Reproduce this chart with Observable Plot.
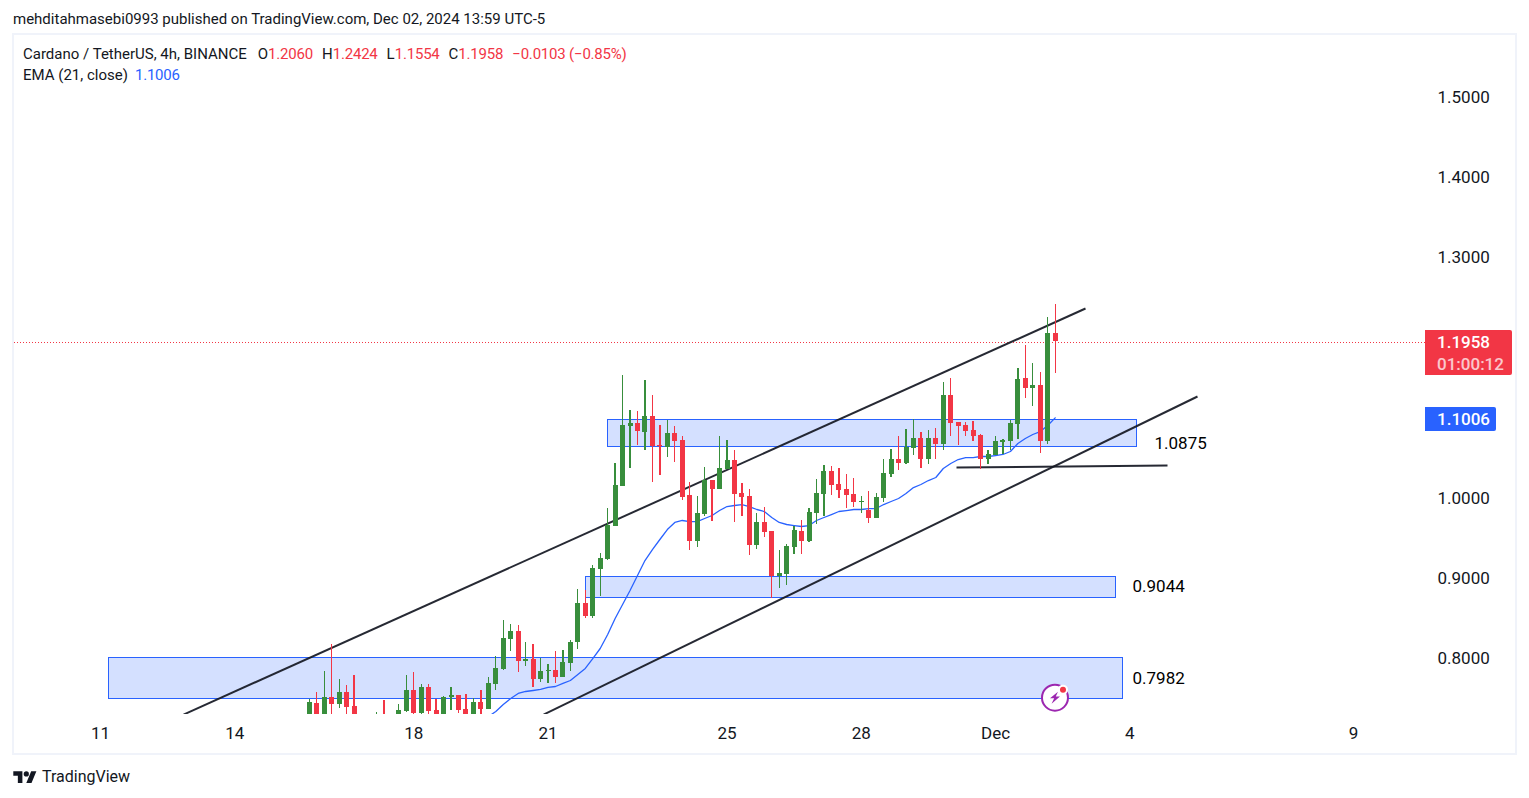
<!DOCTYPE html>
<html>
<head>
<meta charset="utf-8">
<script src="https://cdn.jsdelivr.net/npm/d3@7"></script>
<script src="https://cdn.jsdelivr.net/npm/@observablehq/plot@0.6"></script>
<style>
  html, body { margin: 0; padding: 0; background: #fff; overflow: hidden; }
  body { width: 1529px; height: 798px; position: relative; font-family: Roboto, sans-serif; color: #131722; }
  #frame { position: absolute; left: 12px; top: 33px; width: 1505px; height: 722px; box-sizing: border-box; border: 2px solid #f0f3fa; }
  #chart { position: absolute; left: 0; top: 0; }
  #chart svg { display: block; }
  .t { position: absolute; white-space: pre; line-height: 20px; }
  .n { color: #f23645; letter-spacing: -0.2px; }
  .badge { position: absolute; color: #fff; box-sizing: border-box; text-align: left; font-size: 17px; font-weight: 500; border-radius: 0 2px 2px 0; padding-top: 1px; }
  .badge div { padding-left: 12px; line-height: 22px; }
</style>
</head>
<body>
<div id="frame"></div>
<div id="chart"></div>
<div class="t" style="left:13px;top:9px;font-size:15px">mehditahmasebi0993 published on TradingView.com, Dec 02, 2024 13:59 UTC-5</div>
<div class="t" style="left:23px;top:44px;font-size:15px">Cardano / TetherUS, 4h, BINANCE<span style="margin-left:11px">O</span><span class="n">1.2060</span><span style="margin-left:9px">H</span><span class="n">1.2424</span><span style="margin-left:9px">L</span><span class="n">1.1554</span><span style="margin-left:9px">C</span><span class="n">1.1958</span><span class="n" style="margin-left:9px">−0.0103 (−0.85%)</span></div>
<div class="t" style="left:23px;top:65px;font-size:15px">EMA (21, close)<span style="margin-left:7px;color:#2962ff;letter-spacing:-0.2px">1.1006</span></div>
<svg style="position:absolute;left:13px;top:770px" width="24" height="13" viewBox="0 2 36 20"><path fill="#131722" d="M14 22H7V11H0V4h14v18zM28 22h-8l7.5-18h8L28 22z"/><circle fill="#131722" cx="20" cy="8" r="4"/></svg>
<div class="t" style="left:42px;top:767px;font-size:16px">TradingView</div>
<script>
// 4h candles, first one at 2024-11-15 16:00 UTC
const firstCandle = Date.UTC(2024, 10, 15, 16);
const opens = [.7256,.7444,.7256,.7519,.7431,.7581,.7406,.7256,.7156,.7181,.7269,.7181,.7256,.7344,.7606,.7319,.7644,.7356,.7306,.7519,.7544,.7369,.7294,.7456,.7369,.7681,.7869,.8242,.8342,.7969,.7994,.7744,.7844,.7856,.7769,.7944,.8205,.8691,.8528,.9115,.9239,.9651,1.0150,1.0898,1.0935,1.0823,1.1022,1.0661,1.0636,1.0810,1.0723,1.0037,.9464,.9800,1.0224,1.0112,1.0362,1.0474,1.0062,1.0025,.9414,.9701,.9588,.9027,.9052,.9389,.9588,.9464,.9813,1.0050,1.0337,1.0175,1.0112,1.0050,.9950,.9850,.9751,1.0000,1.0299,1.0486,1.0436,1.0623,1.0748,1.0486,1.0748,1.0673,1.1284,1.0948,1.0910,1.0848,1.0786,1.0486,1.0536,1.0698,1.0711,1.0923,1.1496,1.1372,1.1409,1.0711,1.2060];
const highs = [.7494,.7581,.7844,.8180,.7744,.7669,.7794,.7281,.7281,.7331,.7481,.7281,.7431,.7794,.7831,.7681,.7681,.7494,.7531,.7644,.7544,.7556,.7506,.7606,.7769,.8030,.8479,.8429,.8417,.8205,.8180,.8005,.7931,.8092,.8105,.8230,.8865,.8853,.9165,.9314,.9875,1.0436,1.1534,1.1097,1.1085,1.1471,1.1284,1.0910,1.0973,1.0898,1.0773,1.0199,1.0025,1.0387,1.0224,1.0773,1.0723,1.0598,1.0187,1.0112,.9813,.9888,.9588,.9351,.9426,.9651,.9726,.9875,1.0237,1.0411,1.0399,1.0374,1.0299,1.0249,1.0025,1.0087,1.0062,1.0486,1.0611,1.0773,1.0860,1.0985,1.0823,1.0848,1.0873,1.1446,1.1496,1.0948,1.0948,1.0960,1.0798,1.0598,1.0773,1.0736,1.0973,1.1621,1.1908,1.1683,1.1571,1.2257,1.2424];
const lows = [.7206,.7206,.7206,.7281,.7381,.7281,.7181,.7131,.7106,.7131,.7106,.7131,.7206,.7331,.7294,.7306,.7294,.7231,.7281,.7356,.7319,.7231,.7231,.7306,.7369,.7606,.7856,.8092,.7831,.7906,.7644,.7706,.7694,.7694,.7769,.7844,.8117,.8504,.8504,.8778,.9227,.9651,1.0150,1.0374,1.0661,1.0598,1.0199,1.0287,1.0511,1.0449,.9975,.9351,.9389,.9775,.9713,1.0112,1.0362,.9701,.9775,.9289,.9364,.9514,.8753,.8878,.8915,.9302,.9302,.9451,.9676,.9775,1.0037,1.0000,.9875,.9888,.9813,.9688,.9751,.9950,1.0262,1.0349,1.0424,1.0536,1.0374,1.0424,1.0486,1.0598,1.0773,1.0661,1.0773,1.0711,1.0362,1.0424,1.0536,1.0549,1.0598,1.0736,1.1247,1.1147,1.0561,1.0673,1.1554];
const closes = [.7456,.7256,.7519,.7431,.7581,.7394,.7231,.7181,.7231,.7269,.7169,.7256,.7356,.7606,.7319,.7644,.7344,.7281,.7519,.7544,.7356,.7281,.7456,.7369,.7694,.7881,.8254,.8342,.7969,.7994,.7744,.7844,.7856,.7769,.7956,.8205,.8691,.8528,.9127,.9252,.9663,1.0162,1.0910,1.0935,1.0835,1.1022,1.0648,1.0648,1.0810,1.0711,1.0012,.9464,.9813,1.0224,1.0112,1.0374,1.0474,1.0050,1.0012,.9414,.9701,.9576,.9027,.9065,.9401,.9601,.9464,.9825,1.0062,1.0337,1.0162,1.0100,1.0037,.9950,.9963,.9751,1.0012,1.0312,1.0486,1.0436,1.0636,1.0748,1.0486,1.0748,1.0673,1.1284,1.0935,1.0898,1.0835,1.0773,1.0486,1.0549,1.0711,1.0723,1.0935,1.1484,1.1372,1.1409,1.0711,1.2061,1.1958];
// EMA (21, close), starting from the 23rd candle
const emaOffset = 22;
const ema = [.7206,.7256,.7281,.7344,.7431,.7506,.7569,.7594,.7606,.7619,.7644,.7656,.7694,.7731,.7806,.7881,.8005,.8130,.8304,.8504,.8678,.8853,.9040,.9227,.9364,.9489,.9613,.9701,.9726,.9713,.9713,.9751,.9788,.9850,.9900,.9913,.9925,.9900,.9863,.9838,.9763,.9701,.9676,.9663,.9651,.9663,.9726,.9763,.9800,.9838,.9850,.9863,.9863,.9875,.9875,.9925,.9963,1.0000,1.0062,1.0137,1.0175,1.0224,1.0262,1.0374,1.0436,1.0486,1.0511,1.0511,1.0524,1.0524,1.0536,1.0549,1.0586,1.0686,1.0748,1.0798,1.0835,1.0910,1.1006];

const zones = [
  {x1:"2024-11-22T08:00Z", x2:"2024-12-04T04:09Z", y1:1.0648, y2:1.0979},
  {x1:"2024-11-21T20:23Z", x2:"2024-12-03T16:22Z", y1:0.8759, y2:0.9021},
  {x1:"2024-11-11T04:19Z", x2:"2024-12-03T20:07Z", y1:0.7506, y2:0.8011}
];
const trendLines = [
  {id:"upper", x1:"2024-11-12T20:31Z", y1:0.7306, x2:"2024-12-03T00:16Z", y2:1.2369},
  {id:"lower", x1:"2024-11-20T21:36Z", y1:0.7306, x2:"2024-12-05T12:20Z", y2:1.1272},
  {id:"support", x1:"2024-11-30T03:05Z", y1:1.0387, x2:"2024-12-04T20:15Z", y2:1.0411}
];
const levels = [
  {x:"2024-12-04T13:16Z", y:1.0686, label:"1.0875"},
  {x:"2024-12-04T01:28Z", y:0.8903, label:"0.9044"},
  {x:"2024-12-04T01:28Z", y:0.7755, label:"0.7982"}
];
const priceTicks = [0.8, 0.9, 1.0, 1.3, 1.4, 1.5];
const dateTicks = ["2024-11-11","2024-11-14","2024-11-18","2024-11-21","2024-11-25","2024-11-28","2024-12-01","2024-12-04","2024-12-09"];
const lastPrice = 1.1958, emaLast = 1.1006;
const iconAt = {x:"2024-12-02T07:54Z", y:0.7517};

const RED = "#f23645", GREEN = "#388e3c", BLUE = "#2962ff", INK = "#131722";
const date = s => new Date(s);
const candles = opens.map((o, i) => ({
  date: new Date(firstCandle + i * 4 * 3600e3),
  open: o, high: highs[i], low: lows[i], close: closes[i],
  color: closes[i] >= o ? GREEN : RED
}));
const emaRows = ema.map((v, i) => ({date: candles[i + emaOffset].date, v}));
const bolt = { draw(c) {
  c.moveTo(3, -6); c.lineTo(-5, 0.6); c.lineTo(-0.8, 0.6); c.lineTo(-3.4, 6);
  c.lineTo(5, -1.2); c.lineTo(0.8, -1.2); c.closePath();
}};
const crisp = "crispEdges";

const chart = Plot.plot({
  width: 1529, height: 798,
  marginTop: 35, marginBottom: 84, marginLeft: 14, marginRight: 104,
  style: {fontFamily: "Roboto, sans-serif", background: "transparent", overflow: "visible"},
  x: {type: "utc", domain: [date("2024-11-09T01:52Z"), date("2024-12-10T14:37Z")], axis: null},
  y: {type: "linear", domain: [0.7307, 1.5773], axis: null},
  marks: [
    Plot.ruleY([lastPrice], {stroke: RED, strokeWidth: 1, strokeDasharray: "1 2", dy: 1, shapeRendering: crisp}),
    Plot.rect(zones, {x1: d => date(d.x1), x2: d => date(d.x2), y1: "y1", y2: "y2",
      fill: BLUE, fillOpacity: 0.2, stroke: BLUE, strokeWidth: 1, clip: true, shapeRendering: crisp}),
    Plot.link(trendLines, {x1: d => date(d.x1), y1: "y1", x2: d => date(d.x2), y2: "y2",
      stroke: INK, strokeWidth: 2, strokeOpacity: 0.92, clip: true}),
    Plot.line(emaRows, {x: "date", y: "v", stroke: BLUE, strokeWidth: 1.3, clip: true}),
    Plot.ruleX(candles, {x: "date", y1: "low", y2: "high", stroke: "color", strokeWidth: 1.3, clip: true, shapeRendering: crisp}),
    Plot.ruleX(candles, {x: "date", y1: "open", y2: "close", stroke: "color", strokeWidth: 5, clip: true, shapeRendering: crisp}),
    Plot.dot([iconAt], {x: d => date(d.x), y: "y", r: 13, fill: "#fff", stroke: "#9c27b0", strokeWidth: 2}),
    Plot.dot([iconAt], {x: d => date(d.x), y: "y", symbol: bolt, r: 4, fill: "#9c27b0", stroke: "none"}),
    Plot.dot([iconAt], {x: d => date(d.x), y: "y", dx: 8, dy: -8, r: 5, fill: "#fff", stroke: "none"}),
    Plot.dot([iconAt], {x: d => date(d.x), y: "y", dx: 8, dy: -8, r: 3, fill: RED, stroke: "none"}),
    Plot.text(levels, {x: d => date(d.x), y: "y", text: "label", textAnchor: "start",
      fontSize: 17, fontWeight: 400, fill: "#000"}),
    Plot.axisY({anchor: "right", ticks: priceTicks, tickFormat: d3.format(".4f"), tickSize: 0, tickPadding: 12,
      label: null, fontSize: 17, fill: INK}),
    Plot.axisX({anchor: "bottom", ticks: dateTicks.map(date),
      tickFormat: d => d.getUTCDate() === 1 ? "Dec" : String(d.getUTCDate()),
      tickSize: 0, tickPadding: 12, label: null, fontSize: 17, fill: INK})
  ]
});
document.getElementById("chart").appendChild(chart);

// price badges sit on the axis at the y of their price
const yScale = chart.scale("y");
function badge(price, bg, width, lines, h, shift) {
  const el = document.createElement("div");
  el.className = "badge";
  const top = yScale.apply(price) - shift;
  el.style.cssText = `left:1425px;top:${top}px;width:${width}px;height:${h}px;background:${bg}`;
  lines.forEach(([txt, op]) => {
    const d = document.createElement("div");
    d.textContent = txt; d.style.opacity = op;
    el.appendChild(d);
  });
  document.body.appendChild(el);
}
badge(lastPrice, RED, 87, [["1.1958", 1], ["01:00:12", 0.72]], 45, 11);
badge(emaLast, BLUE, 71, [["1.1006", 1]], 24, 10);
</script>
</body>
</html>
